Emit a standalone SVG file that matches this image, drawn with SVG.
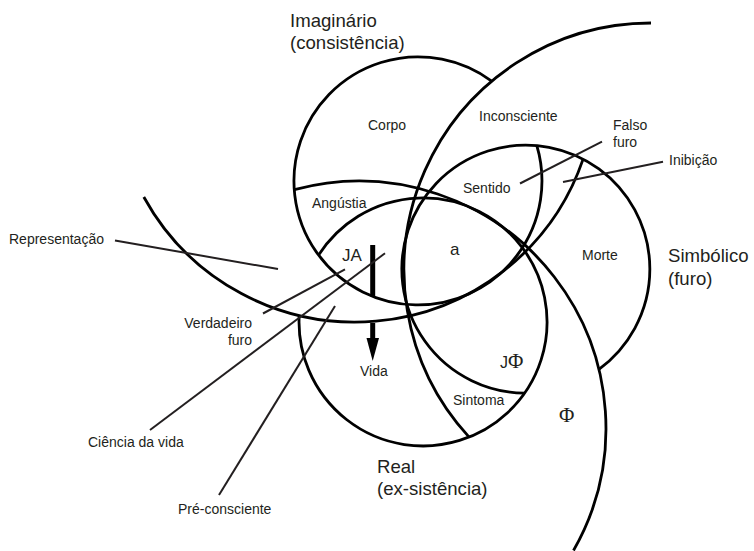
<svg xmlns="http://www.w3.org/2000/svg" width="754" height="551" viewBox="0 0 754 551">
<style>
.ring{fill:none;stroke:#000;stroke-width:2.8}
.lead{fill:none;stroke:#231f20;stroke-width:2}
.big{font-family:"Liberation Sans",Arial,sans-serif;font-size:18.6px;fill:#231f20}
.sm{font-family:"Liberation Sans",Arial,sans-serif;font-size:14px;fill:#231f20}
.phi{font-family:"Liberation Serif","Times New Roman",serif;font-size:21px;fill:#231f20}
</style>
<rect width="754" height="551" fill="#fff"/>
<g id="knot">
  <path id="imaginario-ring" class="ring" d="M491.7,81.2 A124,124 0 1 0 536.8,145.5"/>
  <path id="simbolico-ring" class="ring" d="M524.7,393.1 A124,124 0 1 1 598.9,369.3"/>
  <path id="real-ring" class="ring" d="M318.6,255.1 A124,124 0 1 1 299.2,315.5"/>
  <path id="arc-inconsciente" class="ring" d="M469.1,437.1 A247,247 0 0 1 651,23"/>
  <path id="arc-phi" class="ring" d="M294.4,189.7 A247,247 0 0 1 573.5,550.5"/>
  <path id="arc-representacao" class="ring" d="M143.8,197 A241,241 0 0 0 583.2,158.9"/>
</g>
<g id="vida-arrow">
  <line x1="372.7" y1="245" x2="372.7" y2="296.5" stroke="#000" stroke-width="5"/>
  <line x1="372.7" y1="323" x2="372.7" y2="340" stroke="#000" stroke-width="5"/>
  <polygon points="366.5,338 379,338 372.7,361" fill="#000"/>
</g>
<g id="connectors">
  <line class="lead" x1="115" y1="240.5" x2="278" y2="269"/>
  <line class="lead" x1="263" y1="313.5" x2="345" y2="269.3"/>
  <line class="lead" x1="150" y1="430" x2="385" y2="253.3"/>
  <line class="lead" x1="219" y1="495" x2="335" y2="306"/>
  <line class="lead" x1="520" y1="183.5" x2="602" y2="141.7"/>
  <line class="lead" x1="563" y1="182" x2="663" y2="161.7"/>
</g>
<g id="labels-main">
  <g id="imaginario"><text class="big" x="290" y="27">Imaginário</text><text class="big" x="290" y="49">(consistência)</text></g>
  <g id="simbolico"><text class="big" x="668" y="262">Simbólico</text><text class="big" x="668" y="285">(furo)</text></g>
  <g id="real"><text class="big" x="377" y="473">Real</text><text class="big" x="377" y="495">(ex-sistência)</text></g>
</g>
<g id="labels-regions">
  <text id="corpo" class="sm" x="368" y="130">Corpo</text>
  <text id="inconsciente" class="sm" x="479" y="121">Inconsciente</text>
  <text id="sentido" class="sm" x="463" y="193">Sentido</text>
  <text id="angustia" class="sm" x="312" y="208">Angústia</text>
  <text id="ja" class="sm" x="342" y="261" style="font-size:17px">JA</text>
  <text id="a" class="sm" x="450" y="255" style="font-size:17px">a</text>
  <text id="morte" class="sm" x="582" y="260">Morte</text>
  <text id="vida" class="sm" x="360" y="376">Vida</text>
  <text id="sintoma" class="sm" x="453" y="405">Sintoma</text>
  <text id="jphi" x="500" y="368"><tspan class="sm" style="font-size:16px">J</tspan><tspan class="phi">Φ</tspan></text>
  <text id="phi" class="phi" x="559" y="422">Φ</text>
</g>
<g id="labels-leaders">
  <g id="falso-furo"><text class="sm" x="613" y="130">Falso</text><text class="sm" x="613" y="147">furo</text></g>
  <text id="inibicao" class="sm" x="669" y="165">Inibição</text>
  <text id="representacao" class="sm" x="9" y="244">Representação</text>
  <g id="verdadeiro-furo"><text class="sm" x="252" y="328" text-anchor="end">Verdadeiro</text><text class="sm" x="252" y="345" text-anchor="end">furo</text></g>
  <text id="ciencia" class="sm" x="88" y="447">Ciência da vida</text>
  <text id="preconsciente" class="sm" x="178" y="514">Pré-consciente</text>
</g>
</svg>
